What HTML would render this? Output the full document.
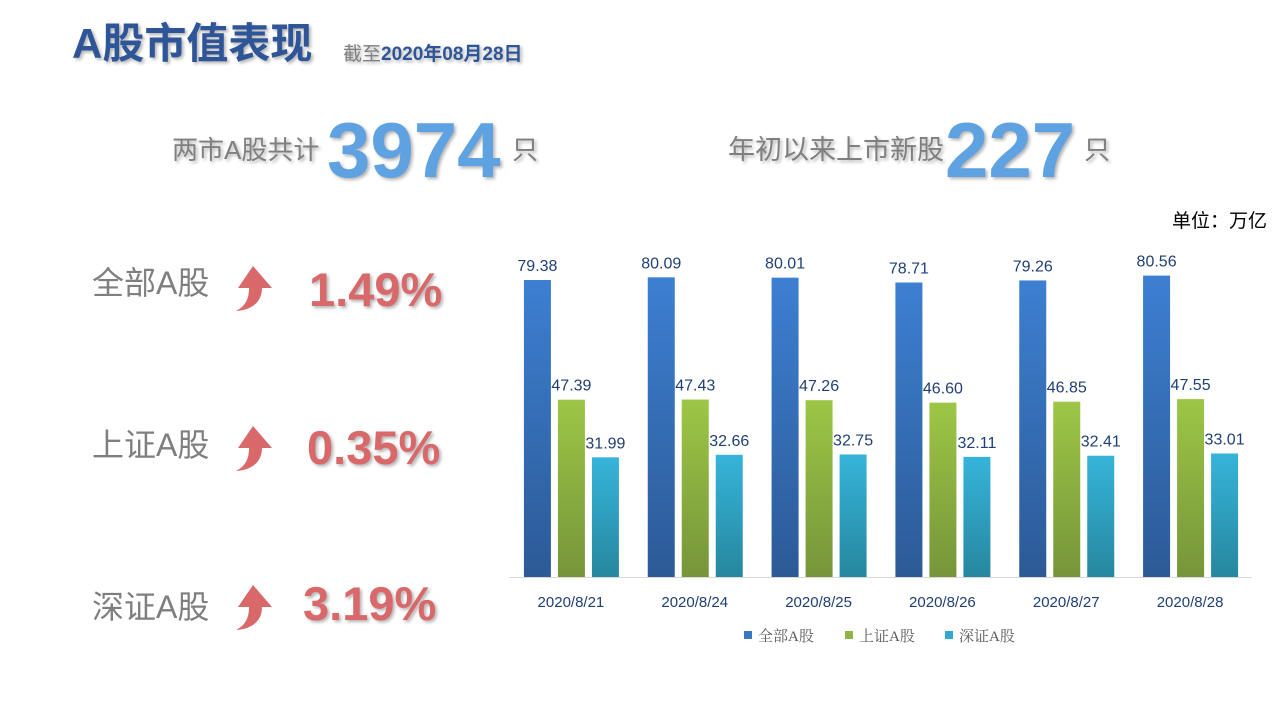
<!DOCTYPE html>
<html><head><meta charset="utf-8"><style>
body{margin:0;width:1280px;height:720px;background:#fff;position:relative;overflow:hidden;font-family:"Liberation Sans","Noto Sans CJK SC",sans-serif}
.a{position:absolute;white-space:nowrap;line-height:1}
.sh{text-shadow:2px 2px 3px rgba(0,0,0,0.3)}
</style></head><body>
<div class="a sh" style="left:72px;top:23px;font-size:42px;font-weight:bold;color:#2e5597">A股市值表现</div>
<div class="a sh" style="left:343px;top:45px;font-size:19px;font-weight:bold;color:#2e5597"><span style="color:#7f7f7f;font-weight:normal">截至</span>2020年08月28日</div>
<div class="a sh" style="left:172px;top:137px;font-size:26px;color:#7f7f7f">两市A股共计</div>
<div class="a sh" style="left:327px;top:111px;font-size:78px;font-weight:bold;color:#5ea2e2">3974</div>
<div class="a sh" style="left:512px;top:137px;font-size:26px;color:#7f7f7f">只</div>
<div class="a sh" style="left:728px;top:137px;font-size:27px;color:#7f7f7f">年初以来上市新股</div>
<div class="a sh" style="left:945px;top:111px;font-size:78px;font-weight:bold;color:#5ea2e2">227</div>
<div class="a sh" style="left:1084px;top:137px;font-size:26px;color:#7f7f7f">只</div>
<div class="a" style="left:1172px;top:212px;font-size:19px;color:#000">单位：万亿</div>

<div>
<div class="a" style="left:92px;top:267px;font-size:32px;color:#7f7f7f">全部A股</div>
<svg class="a" style="left:232px;top:264px" width="42" height="48" viewBox="0 0 42 48"><path d="M21 2 L40 24 L30 24 C30 38 20 46 4 47 C14 42 17 34 17 24 L6 24 Z" fill="#d9686a"/></svg>
<div class="a sh" style="left:309px;top:266px;font-size:47px;font-weight:bold;color:#d9686a">1.49%</div>
</div>
<div>
<div class="a" style="left:92px;top:429px;font-size:32px;color:#7f7f7f">上证A股</div>
<svg class="a" style="left:232px;top:424px" width="42" height="48" viewBox="0 0 42 48"><path d="M21 2 L40 24 L30 24 C30 38 20 46 4 47 C14 42 17 34 17 24 L6 24 Z" fill="#d9686a"/></svg>
<div class="a sh" style="left:307px;top:424px;font-size:47px;font-weight:bold;color:#d9686a">0.35%</div>
</div>
<div>
<div class="a" style="left:92px;top:591px;font-size:32px;color:#7f7f7f">深证A股</div>
<svg class="a" style="left:232px;top:583px" width="42" height="48" viewBox="0 0 42 48"><path d="M21 2 L40 24 L30 24 C30 38 20 46 4 47 C14 42 17 34 17 24 L6 24 Z" fill="#d9686a"/></svg>
<div class="a sh" style="left:303px;top:580px;font-size:47px;font-weight:bold;color:#d9686a">3.19%</div>
</div>

<svg id="chart" class="a" style="left:0;top:0" width="1280" height="720">
<defs>
<linearGradient id="gb" x1="0" y1="0" x2="0" y2="1"><stop offset="0" stop-color="#3d7fd2"/><stop offset="1" stop-color="#2c5a96"/></linearGradient>
<linearGradient id="gg" x1="0" y1="0" x2="0" y2="1"><stop offset="0" stop-color="#9dc646"/><stop offset="1" stop-color="#76953a"/></linearGradient>
<linearGradient id="gc" x1="0" y1="0" x2="0" y2="1"><stop offset="0" stop-color="#36b4da"/><stop offset="1" stop-color="#26879f"/></linearGradient>
</defs>
</svg>
<script>
const categories=["2020/8/21","2020/8/24","2020/8/25","2020/8/26","2020/8/27","2020/8/28"];
const allA=[79.38,80.09,80.01,78.71,79.26,80.56];
const shA=[47.39,47.43,47.26,46.60,46.85,47.55];
const szA=[31.99,32.66,32.75,32.11,32.41,33.01];
const seriesNames=["全部A股","上证A股","深证A股"];
const svg=document.getElementById('chart');
const NS="http://www.w3.org/2000/svg";
const x0=509,x1=1252,base=577,scale=297/79.38;
const bw=(x1-x0)/categories.length;
const xC=i=>x0+bw*(i+0.5);
const yV=v=>base-v*scale;
function mk(t,a){const e=document.createElementNS(NS,t);for(const k in a)e.setAttribute(k,a[k]);svg.appendChild(e);return e;}
const axis=mk('line',{x1:x0,x2:x1,y1:base+0.5,y2:base+0.5,stroke:'#d9d9d9','stroke-width':1});


const series=[allA,shA,szA],fills=['url(#gb)','url(#gg)','url(#gc)'],offs=[-47,-13,21],keys=['all-a','sh-a','sz-a'];
series.forEach((arr,s)=>{arr.forEach((v,i)=>{
 const x=xC(i)+offs[s];
 const r=mk('rect',{x:x,y:yV(v),width:27,height:base-yV(v),fill:fills[s]});
 
 
 const t=mk('text',{x:x+13.5,y:yV(v)-9,'text-anchor':'middle','font-size':16,fill:'#1f3f74','font-family':'Liberation Sans, sans-serif'});
 t.textContent=v.toFixed(2);
 
 
});});
categories.forEach((c,i)=>{
 const t=mk('text',{x:xC(i),y:607,'text-anchor':'middle','font-size':15,fill:'#1f3f74','font-family':'Liberation Sans, sans-serif'});
 t.textContent=c;
 
 
});
const lc=['#3a78c6','#8fb544','#31a9cc'],lx=[744,845,945];
seriesNames.forEach((n,s)=>{
 const r=mk('rect',{x:lx[s],y:631,width:8,height:8,fill:lc[s]});
 
 
 const t=mk('text',{x:lx[s]+14,y:641,'font-size':15,fill:'#595959','font-family':'Liberation Serif, Noto Serif CJK SC, serif'});
 t.textContent=n;
 
 
});
</script>
</body></html>
